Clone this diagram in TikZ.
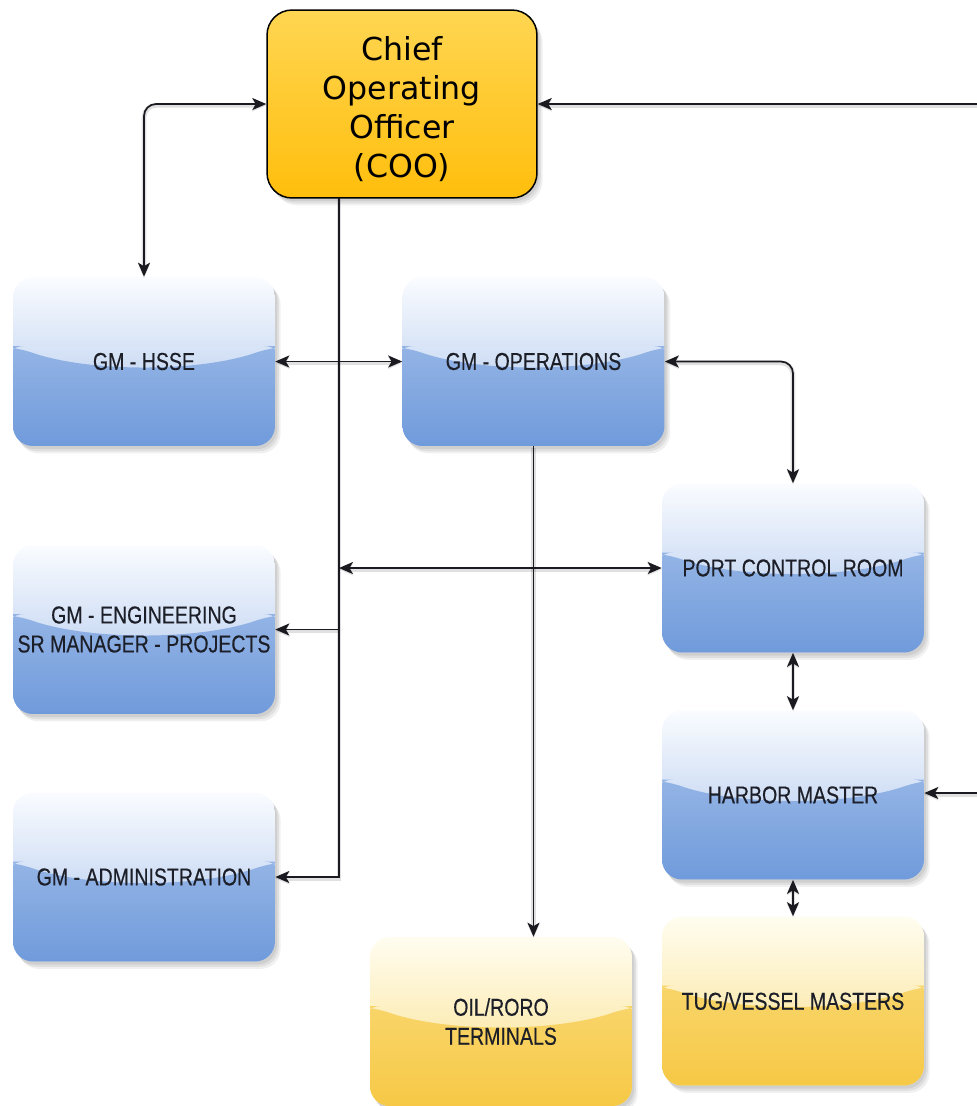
\documentclass[tikz,border=0pt]{standalone}
\usepackage{fontspec}
\newfontfamily\narrowfont{Liberation Sans}[FakeStretch=0.8,FakeBold=0.35]
\newfontfamily\titlefont{DejaVu Sans}
\usetikzlibrary{arrows.meta,calc}

% palette
\definecolor{blueTop}{RGB}{250,252,255}
\definecolor{blueMid}{RGB}{168,194,235}
\definecolor{blueLowTop}{RGB}{172,197,236}
\definecolor{blueLowBot}{RGB}{108,152,218}
\definecolor{ylwTop}{RGB}{255,253,240}
\definecolor{ylwMid}{RGB}{249,222,134}
\definecolor{ylwLowTop}{RGB}{250,222,130}
\definecolor{ylwLowBot}{RGB}{246,199,66}
\definecolor{cooTop}{RGB}{255,214,82}
\definecolor{cooBot}{RGB}{255,190,12}
\definecolor{ink}{RGB}{28,31,40}
\definecolor{wire}{RGB}{26,26,32}

% lower glossy half of a unit box, drawn inside its path picture
\newcommand\glosslower[2]{%
  \shade[top color=#1,bottom color=#2]
    ([shift={(-2.8cm,0.31cm)}]path picture bounding box.center)
    -- ([shift={(-2.62cm,0.31cm)}]path picture bounding box.center)
    .. controls ([shift={(-1.1cm,-0.22cm)}]path picture bounding box.center)
       and ([shift={(1.1cm,-0.22cm)}]path picture bounding box.center)
    .. ([shift={(2.62cm,0.31cm)}]path picture bounding box.center)
    -- ([shift={(2.8cm,0.31cm)}]path picture bounding box.center)
    -- ([shift={(2.8cm,-1.9cm)}]path picture bounding box.center)
    -- ([shift={(-2.8cm,-1.9cm)}]path picture bounding box.center)
    -- cycle;}

\tikzset{
  softshadow/.style={
    preaction={fill=black,opacity=0.07,transform canvas={xshift=1.2pt,yshift=-1.8pt}},
    preaction={fill=black,opacity=0.07,transform canvas={xshift=2.2pt,yshift=-3.0pt}},
    preaction={fill=black,opacity=0.06,transform canvas={xshift=3.2pt,yshift=-4.2pt}}},
  unit/.style={rectangle, rounded corners=0.4cm, minimum width=5.24cm,
    minimum height=3.38cm, inner sep=0pt, align=center, text=ink,
    font=\narrowfont\fontsize{13.9pt}{16.5pt}\selectfont, softshadow},
  bluebox/.style={unit, top color=blueTop, bottom color=blueMid,
    path picture={\glosslower{blueLowTop}{blueLowBot}}},
  yellowbox/.style={unit, top color=ylwTop, bottom color=ylwMid,
    path picture={\glosslower{ylwLowTop}{ylwLowBot}}},
  headbox/.style={rectangle, rounded corners=0.5cm, minimum width=5.4cm,
    minimum height=3.76cm, inner sep=0pt, draw=black, line width=0.85pt,
    top color=cooTop, bottom color=cooBot, softshadow},
  headtext/.style={align=center, text=black, inner sep=0pt,
    font=\titlefont\fontsize{18pt}{22.2pt}\selectfont},
  link/.style={draw=wire, line width=1pt,
    preaction={draw=black, opacity=0.12, line width=2.6pt,
      transform canvas={yshift=-0.8pt}}},
  one/.style={link, -{Stealth[length=0.28cm,width=0.24cm,inset=0.07cm]}},
  both/.style={link, {Stealth[length=0.28cm,width=0.24cm,inset=0.07cm]}-{Stealth[length=0.28cm,width=0.24cm,inset=0.07cm]}}
}

\begin{document}
\begin{tikzpicture}[x=0.02cm,y=-0.02cm]
\useasboundingbox (0,0) rectangle (977,1106);

% executive
\node[headbox] (coo) at (402,104) {};
\node[headtext] (cooname) at (402,109) {Chief\\Operating\\Officer\\(COO)};

% general managers
\node[bluebox] (hsse) at (144,361.5) {GM - HSSE};
\node[bluebox] (ops)  at (533.5,361.5) {GM - OPERATIONS};
\node[bluebox] (eng)  at (144,629.5) {GM - ENGINEERING\\SR MANAGER - PROJECTS};
\node[bluebox] (adm)  at (144,877) {GM - ADMINISTRATION};

% marine side
\node[bluebox] (pcr)    at (793,568) {PORT CONTROL ROOM};
\node[bluebox] (harbor) at (793,795) {HARBOR MASTER};
\node[yellowbox] (tug)  at (793,1001) {TUG/VESSEL MASTERS};
\node[yellowbox] (oil)  at (501,1021.5) {OIL/RORO\\TERMINALS};

% feed-in points and trunk
\coordinate (eastfeed) at (990,104);
\coordinate (harborfeed) at (990,793);
\coordinate (trunk) at (339,198);

% connectors
\draw[both, rounded corners=0.24cm] (coo.west) -| (hsse.north);
\draw[one] (eastfeed) -- (coo.east);
\draw[one] (harborfeed) -- (harborfeed -| harbor.east);
\draw[one] (trunk) |- (adm.east);
\draw[one] (trunk |- eng.east) -- (eng.east);
\draw[both] (trunk |- pcr.west) -- (pcr.west);
\draw[both] (hsse.east) -- (ops.west);
\draw[both, rounded corners=0.24cm] (ops.east) -| (pcr.north);
\draw[both] (pcr.south) -- (harbor.north);
\draw[both] (harbor.south) -- (tug.north);
\draw[one] (ops.south) -- (ops.south |- oil.north);
\end{tikzpicture}
\end{document}
